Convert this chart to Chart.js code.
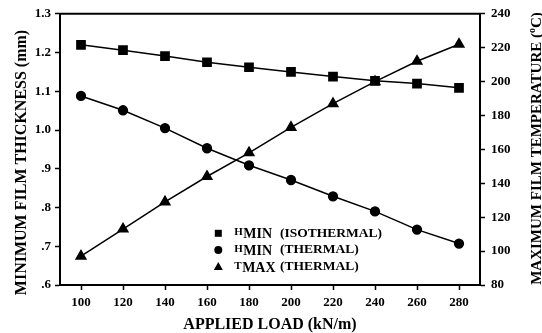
<!DOCTYPE html>
<html>
<head>
<meta charset="utf-8">
<script src="https://cdn.jsdelivr.net/npm/chart.js@4/dist/chart.umd.min.js"></script>
<style>
  html, body { margin: 0; padding: 0; background: #fff; }
  #wrap { width: 542px; height: 333px; }
</style>
</head>
<body>
<div id="wrap"><canvas id="c" width="542" height="333"></canvas></div>
<script>
// Applied load (kN/m)
const loads = [100, 120, 140, 160, 180, 200, 220, 240, 260, 280];
// Minimum film thickness (mm), isothermal solution
const hminIsothermal = [1.220, 1.206, 1.191, 1.175, 1.162, 1.150, 1.138, 1.127, 1.120, 1.109];
// Minimum film thickness (mm), thermal solution
const hminThermal = [1.088, 1.051, 1.005, 0.953, 0.909, 0.871, 0.829, 0.790, 0.743, 0.707];
// Maximum film temperature (°C), thermal solution
const tmaxThermal = [97, 113, 129, 144, 158, 173, 187, 200, 212, 222];

const loadTicks = [100, 120, 140, 160, 180, 200, 220, 240, 260, 280];
const thicknessTicks = [0.6, 0.7, 0.8, 0.9, 1.0, 1.1, 1.2, 1.3];
const temperatureTicks = [80, 100, 120, 140, 160, 180, 200, 220, 240];

const SERIF = '"Liberation Serif", "Times New Roman", serif';
const pts = (ys) => loads.map((x, i) => ({ x, y: ys[i] }));

const tickFont = { family: SERIF, size: 13, weight: 'bold' };

function thicknessLabel(v) {
  const s = v.toFixed(1);
  return s.startsWith('0') ? s.slice(1) : s;
}

// Frame top edge, axis titles and the marker key
const decorations = {
  id: 'decorations',
  afterDraw(chart) {
    const { ctx, chartArea: a } = chart;
    ctx.save();
    ctx.strokeStyle = '#000';
    ctx.lineWidth = 2;
    ctx.beginPath();
    ctx.moveTo(a.left - 1, a.top);
    ctx.lineTo(a.right + 1, a.top);
    ctx.stroke();

    ctx.fillStyle = '#000';
    ctx.textBaseline = 'alphabetic';

    // x title
    ctx.font = 'bold 16px ' + SERIF;
    ctx.textAlign = 'center';
    ctx.fillText('APPLIED LOAD (kN/m)', (a.left + a.right) / 2, 329);

    // left title
    ctx.save();
    ctx.translate(25.5, 162.5);
    ctx.rotate(-Math.PI / 2);
    ctx.font = 'bold 16px ' + SERIF;
    ctx.textAlign = 'center';
    ctx.fillText('MINIMUM FILM THICKNESS (mm)', 0, 0);
    ctx.restore();

    // right title with superscript degree mark
    ctx.save();
    ctx.translate(540.5, 148.5);
    ctx.rotate(-Math.PI / 2);
    const big = 'bold 15px ' + SERIF, small = 'bold 10px ' + SERIF;
    const parts = [
      { t: 'MAXIMUM FILM TEMPERATURE (', f: big, dy: 0 },
      { t: 'o', f: small, dy: -6 },
      { t: 'C)', f: big, dy: 0 }
    ];
    let total = 0;
    parts.forEach(p => { ctx.font = p.f; p.w = ctx.measureText(p.t).width; total += p.w; });
    let x = -total / 2;
    ctx.textAlign = 'left';
    parts.forEach(p => { ctx.font = p.f; ctx.fillText(p.t, x, p.dy); x += p.w; });
    ctx.restore();

    // key
    const keyX = 218.3;
    const rows = [
      { y: 233.3, base: 236.7, mark: 'rect', lead: 'H', sub: 'MIN', rest: '(ISOTHERMAL)' },
      { y: 250.0, base: 253.3, mark: 'circle', lead: 'H', sub: 'MIN', rest: '(THERMAL)' },
      { y: 266.6, base: 270.0, mark: 'triangle', lead: 'T', sub: 'MAX', rest: '(THERMAL)' }
    ];
    rows.forEach(r => {
      ctx.beginPath();
      if (r.mark === 'rect') {
        ctx.rect(keyX - 3.5, r.y - 3.5, 7, 7);
      } else if (r.mark === 'circle') {
        ctx.arc(keyX, r.y, 4, 0, Math.PI * 2);
      } else {
        ctx.moveTo(keyX, r.y - 4.5);
        ctx.lineTo(keyX + 4.5, r.y + 3.5);
        ctx.lineTo(keyX - 4.5, r.y + 3.5);
        ctx.closePath();
      }
      ctx.fill();

      ctx.textAlign = 'left';
      ctx.font = 'bold 11px ' + SERIF;
      ctx.fillText(r.lead, 234.3, r.base - 1.5);
      const lw = ctx.measureText(r.lead).width;
      ctx.font = 'bold 14px ' + SERIF;
      ctx.fillText(r.sub, 234.3 + lw + 0.5, r.base + 1.7);
      ctx.font = 'bold 13.5px ' + SERIF;
      ctx.fillText(r.rest, 280, r.base);
    });
    ctx.restore();
  }
};

new Chart(document.getElementById('c'), {
  type: 'line',
  data: {
    datasets: [
      {
        label: 'HMIN (ISOTHERMAL)',
        data: pts(hminIsothermal),
        yAxisID: 'y',
        pointStyle: 'rect',
        pointRadius: 5.8,
        borderColor: '#000',
        backgroundColor: '#000',
        pointBackgroundColor: '#000',
        borderWidth: 1.5
      },
      {
        label: 'HMIN (THERMAL)',
        data: pts(hminThermal),
        yAxisID: 'y',
        pointStyle: 'circle',
        pointRadius: 4.4,
        borderColor: '#000',
        backgroundColor: '#000',
        pointBackgroundColor: '#000',
        borderWidth: 1.5
      },
      {
        label: 'TMAX (THERMAL)',
        data: pts(tmaxThermal),
        yAxisID: 'y1',
        pointStyle: 'triangle',
        pointRadius: 5.6,
        borderColor: '#000',
        backgroundColor: '#000',
        pointBackgroundColor: '#000',
        borderWidth: 1.5
      }
    ]
  },
  options: {
    responsive: false,
    animation: false,
    events: [],
    layout: { padding: { top: 13, left: 0, right: 0, bottom: 0 } },
    elements: { line: { tension: 0, fill: false }, point: { borderWidth: 0 } },
    plugins: { legend: { display: false }, tooltip: { enabled: false } },
    scales: {
      x: {
        type: 'linear',
        min: 90,
        max: 290,
        afterBuildTicks: s => { s.ticks = loadTicks.map(v => ({ value: v })); },
        afterFit: s => { s.height = 48; },
        grid: { drawOnChartArea: false, drawTicks: true, tickLength: 5, tickWidth: 1.5, tickColor: '#000' },
        border: { display: true, color: '#000', width: 2 },
        ticks: { font: tickFont, color: '#000', padding: 5, maxRotation: 0, autoSkip: false }
      },
      y: {
        position: 'left',
        min: 0.6,
        max: 1.3,
        afterBuildTicks: s => { s.ticks = thicknessTicks.map(v => ({ value: v })); },
        afterFit: s => { s.width = 60; },
        grid: { drawOnChartArea: false, drawTicks: true, tickLength: 5, tickWidth: 1.5, tickColor: '#000' },
        border: { display: true, color: '#000', width: 2 },
        ticks: { font: tickFont, color: '#000', padding: 4, autoSkip: false, callback: v => thicknessLabel(v) }
      },
      y1: {
        position: 'right',
        min: 80,
        max: 240,
        afterBuildTicks: s => { s.ticks = temperatureTicks.map(v => ({ value: v })); },
        afterFit: s => { s.width = 62; },
        grid: { drawOnChartArea: false, drawTicks: true, tickLength: 5, tickWidth: 1.5, tickColor: '#000' },
        border: { display: true, color: '#000', width: 2 },
        ticks: { font: tickFont, color: '#000', padding: 6, autoSkip: false }
      }
    }
  },
  plugins: [decorations]
});
</script>
</body>
</html>
